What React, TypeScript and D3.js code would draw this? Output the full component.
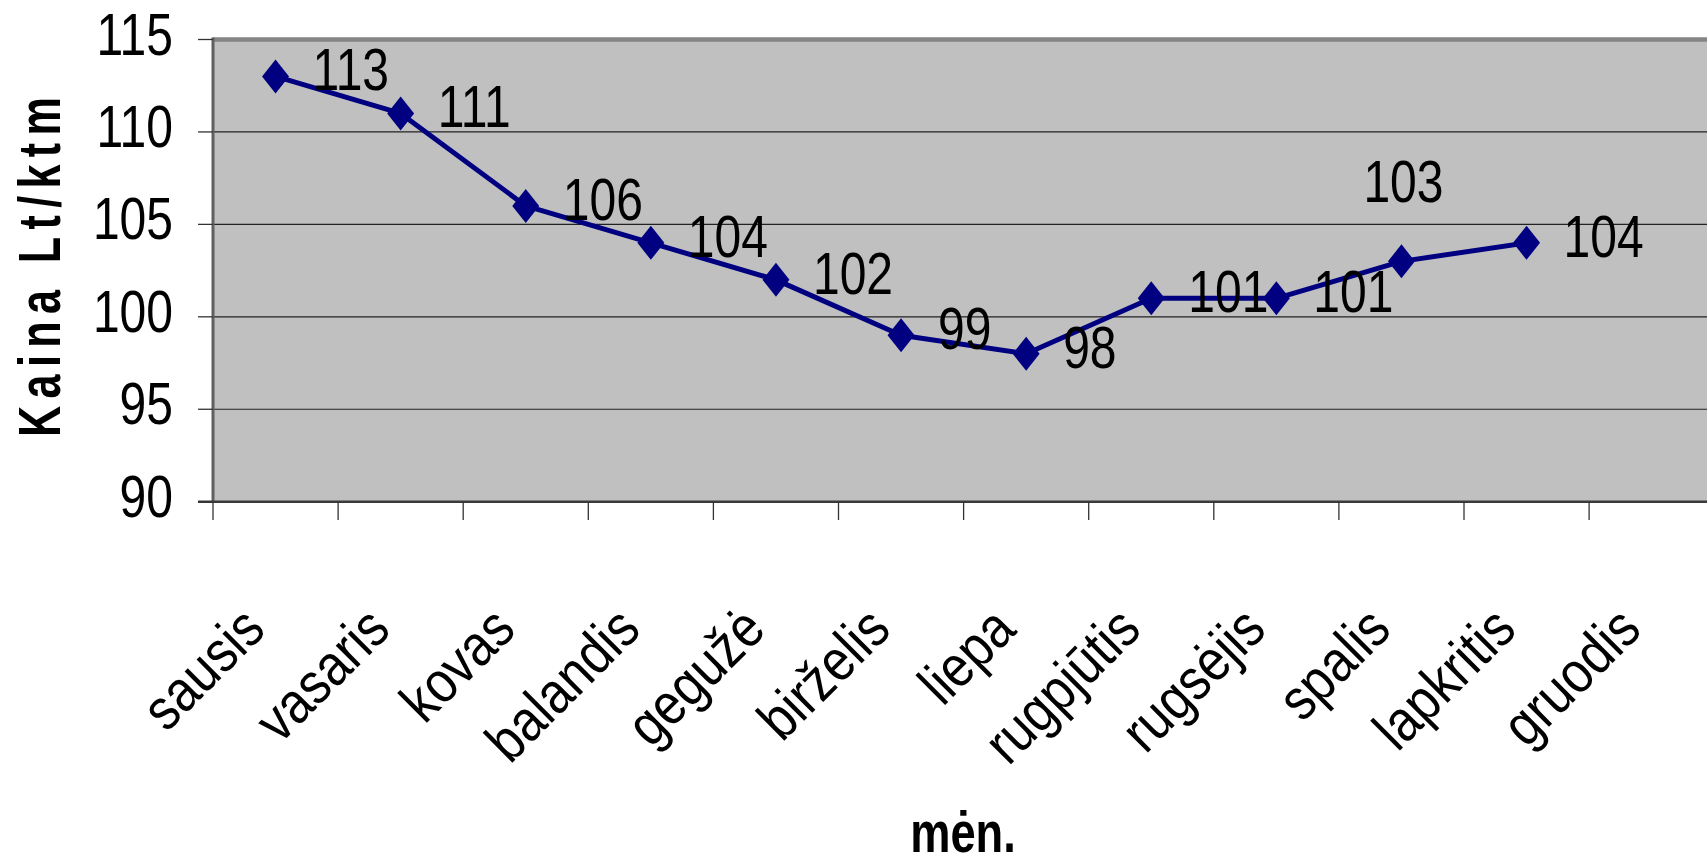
import React from "react";
import * as d3 from "d3";

const months = ["sausis", "vasaris", "kovas", "balandis", "gegužė", "birželis", "liepa", "rugpjūtis", "rugsėjis", "spalis", "lapkritis", "gruodis"];
const prices: (number | null)[] = [113, 111, 106, 104, 102, 99, 98, 101, 101, 103, 104, null];
const labelSide = ["right", "right", "right", "right", "right", "right", "right", "right", "right", "above", "right", "right"];
const yTicks = [90, 95, 100, 105, 110, 115];
const yTitle = "Kaina Lt/ktm";
const xTitle = "mėn.";

const W = 1707;
const H = 866;
const FONT = "'Liberation Sans', Arial, sans-serif";
const SX = 0.8;
const SX_LABEL = 0.87;

const left = 213;
const top = 39.5;
const bottom = 501.7;
const band = 125.1;

export default function App() {
  const x = d3.scaleBand<string>().domain(months).range([left, left + band * months.length]).padding(0);
  const y = d3.scaleLinear().domain([90, 115]).range([bottom, top]);
  const cx = (m: string) => (x(m) as number) + x.bandwidth() / 2;

  const pts = months.map((m, i) => ({ m, v: prices[i], side: labelSide[i] }));
  const line = d3
    .line<{ m: string; v: number | null }>()
    .defined((d) => d.v !== null)
    .x((d) => cx(d.m))
    .y((d) => y(d.v as number));

  const diamond = (px: number, py: number) =>
    `M${px},${py - 17}L${px + 13.5},${py}L${px},${py + 17}L${px - 13.5},${py}Z`;

  return (
    <svg width={W} height={H} style={{ position: "absolute", left: 0, top: 0, display: "block", background: "#fff" }}>
      {/* plot area */}
      <rect x={left} y={top} width={W - left} height={bottom - top} fill="#C0C0C0" />
      {/* gridlines */}
      {yTicks.filter((t) => t !== 90 && t !== 115).map((t) => (
        <line key={t} x1={left} x2={W} y1={y(t)} y2={y(t)} stroke="#222" strokeWidth={1.2} />
      ))}
      {/* top border */}
      <line x1={left} x2={W} y1={top} y2={top} stroke="#858585" strokeWidth={4.5} />
      {/* left border */}
      <line x1={left} x2={left} y1={top - 2} y2={bottom} stroke="#606060" strokeWidth={3} />
      {/* bottom axis */}
      <line x1={left - 15} x2={W} y1={bottom} y2={bottom} stroke="#3a3a3a" strokeWidth={2.5} />
      {/* y ticks */}
      {yTicks.map((t) => (
        <g key={t}>
          <line x1={198} x2={left} y1={y(t)} y2={y(t)} stroke="#333" strokeWidth={1.3} />
          <g transform={`translate(173,${y(t) + 15}) scale(${SX},1)`}>
            <text textAnchor="end" fontFamily={FONT} fontSize={60} fill="#000">
              {t}
            </text>
          </g>
        </g>
      ))}
      {/* x ticks */}
      {months.map((m) => (
        <line key={m} x1={x(m) as number} x2={x(m) as number} y1={bottom} y2={520} stroke="#333" strokeWidth={1.3} />
      ))}
      {/* x labels */}
      {months.map((m) => (
        <g key={m} transform={`translate(${cx(m) - 8},632) rotate(-45) scale(${SX_LABEL},1)`}>
          <text textAnchor="end" fontFamily={FONT} fontSize={58} fill="#000">
            {m}
          </text>
        </g>
      ))}
      {/* line */}
      <path d={line(pts) || ""} fill="none" stroke="#000080" strokeWidth={5} strokeLinejoin="round" />
      {pts.filter((p) => p.v !== null).map((p) => (
        <path key={p.m} d={diamond(cx(p.m), y(p.v as number))} fill="#000080" />
      ))}
      {/* data labels */}
      {pts.filter((p) => p.v !== null).map((p) => {
        const px = cx(p.m);
        const py = y(p.v as number);
        const above = p.side === "above";
        const tx = above ? px + 2 : px + 37;
        const ty = above ? py - 59 : py + 14;
        return (
          <g key={p.m} transform={`translate(${tx},${ty}) scale(${SX},1)`}>
            <text textAnchor={above ? "middle" : "start"} fontFamily={FONT} fontSize={60} fill="#000">
              {p.v}
            </text>
          </g>
        );
      })}
      {/* y title */}
      <g transform={`translate(60,267) rotate(-90) scale(0.72,1)`}>
        <text
          textAnchor="middle"
          fontFamily={FONT}
          fontWeight="bold"
          fontSize={60}
          fill="#000"
          textLength={340 / 0.72}
          lengthAdjust="spacing"
          x={0}
        >
          {yTitle}
        </text>
      </g>
      {/* x title */}
      <g transform={`translate(963,852) scale(0.78,1)`}>
        <text textAnchor="middle" fontFamily={FONT} fontWeight="bold" fontSize={58} fill="#000">
          {xTitle}
        </text>
      </g>
    </svg>
  );
}
